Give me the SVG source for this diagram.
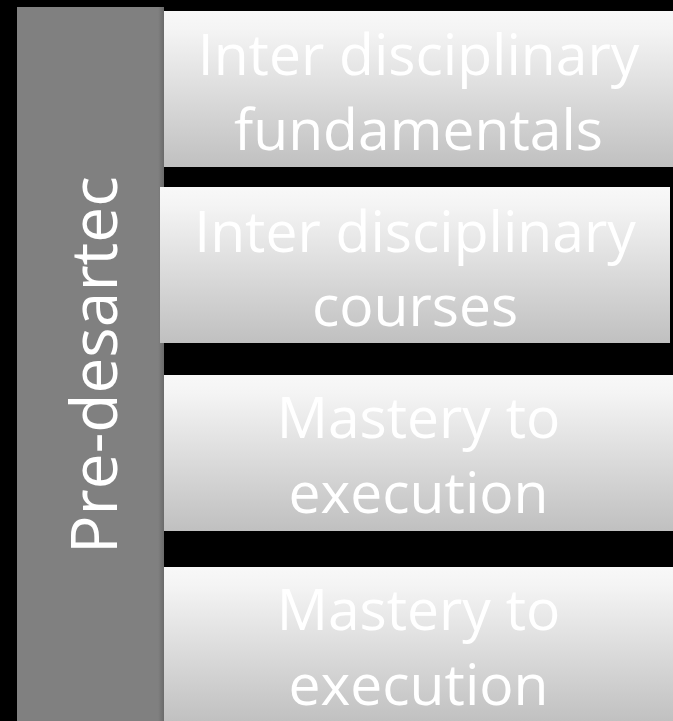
<svg xmlns="http://www.w3.org/2000/svg" width="673" height="721" viewBox="0 0 673 721">
  <defs>
    <linearGradient id="boxGrad" x1="0" y1="0" x2="0" y2="1">
      <stop offset="0" stop-color="#f8f8f8"/>
      <stop offset="0.12" stop-color="#f4f4f4"/>
      <stop offset="1" stop-color="#c0c0c0"/>
    </linearGradient>
    <linearGradient id="barEdge" x1="0" y1="0" x2="1" y2="0">
      <stop offset="0" stop-color="#808080"/>
      <stop offset="0.96" stop-color="#808080"/>
      <stop offset="1" stop-color="#6a6a6a"/>
    </linearGradient>
    <style>
      .box { fill: url(#boxGrad); }
      .lbl { font-family: "Open Sans", "Liberation Sans", sans-serif; font-size: 57px; fill: #ffffff; text-anchor: middle; }
      .side { font-family: "Open Sans", "Liberation Sans", sans-serif; font-size: 64px; fill: #ffffff; text-anchor: middle; }
    </style>
  </defs>
  <rect x="0" y="0" width="673" height="721" fill="#000000"/>
  <g id="side-bar">
    <rect x="17" y="7" width="147" height="720" fill="url(#barEdge)"/>
    <text class="side" transform="translate(117 365) rotate(-90)">Pre-desartec</text>
  </g>
  <g id="node-1">
    <rect class="box" x="164" y="11" width="509" height="156"/>
    <text class="lbl" x="418.5" y="75">Inter disciplinary</text>
    <text class="lbl" x="418.5" y="150">fundamentals</text>
  </g>
  <g id="node-2">
    <rect class="box" x="160" y="187" width="510" height="156"/>
    <text class="lbl" x="415" y="252">Inter disciplinary</text>
    <text class="lbl" x="415" y="326">courses</text>
  </g>
  <g id="node-3">
    <rect class="box" x="164" y="375" width="509" height="156"/>
    <text class="lbl" x="418.5" y="438">Mastery to</text>
    <text class="lbl" x="418.5" y="513">execution</text>
  </g>
  <g id="node-4">
    <rect class="box" x="164" y="567" width="509" height="156"/>
    <text class="lbl" x="418.5" y="630">Mastery to</text>
    <text class="lbl" x="418.5" y="705">execution</text>
  </g>
  <g id="connectors"/>
</svg>
